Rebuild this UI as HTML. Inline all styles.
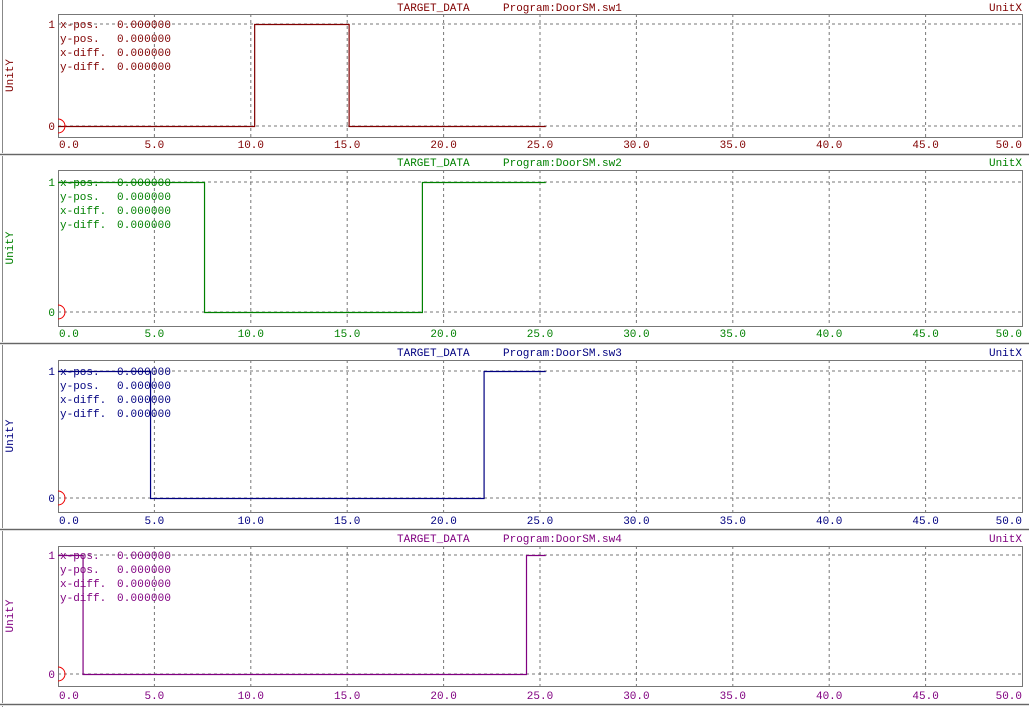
<!DOCTYPE html>
<html><head><meta charset="utf-8"><style>
html,body{margin:0;padding:0;background:#fff;width:1029px;height:707px;overflow:hidden}
svg{display:block}
text{font-family:"Liberation Mono",monospace;font-size:11px}
</style></head><body>
<svg id="s" width="1029" height="707" xmlns="http://www.w3.org/2000/svg"></svg>
<script>
var P=[
 {c:'#800000',n:'sw1',t:11,b0:14,b1:137,y1:24,y0:126,l:148,sep:154,sig:[[0,0],[10.2,1],[15.1,0]]},
 {c:'#008000',n:'sw2',t:166,b0:170,b1:326,y1:182,y0:312,l:337,sep:343,sig:[[0,1],[7.6,0],[18.9,1]]},
 {c:'#000080',n:'sw3',t:356,b0:360,b1:512,y1:371,y0:498,l:524,sep:529,sig:[[0,1],[4.8,0],[22.1,1]]},
 {c:'#800080',n:'sw4',t:542,b0:546,b1:686,y1:555,y0:674,l:699,sep:704,sig:[[0,1],[1.3,0],[24.3,1]]}
];
var X0=58,X1=1022,sc=(X1-X0)/50,h='';
h+='<line x1="2.5" y1="0" x2="2.5" y2="707" stroke="#888"/>';
P.forEach(function(p){
 h+='<text x="397" y="'+p.t+'" fill="'+p.c+'">TARGET_DATA</text>';
 h+='<text x="503" y="'+p.t+'" fill="'+p.c+'">Program:DoorSM.'+p.n+'</text>';
 h+='<text x="1022" y="'+p.t+'" fill="'+p.c+'" text-anchor="end">UnitX</text>';
 var my=(p.b0+p.b1)/2;
 h+='<text x="13" y="'+my+'" fill="'+p.c+'" text-anchor="middle" transform="rotate(-90 13 '+my+')">UnitY</text>';
 for(var i=1;i<10;i++){var x=X0+i*5*sc;h+='<line x1="'+x+'" y1="'+p.b0+'" x2="'+x+'" y2="'+p.b1+'" stroke="#777" stroke-dasharray="3,3"/>';}
 h+='<line x1="'+X0+'" y1="'+p.y1+'" x2="'+X1+'" y2="'+p.y1+'" stroke="#777" stroke-dasharray="3,3"/>';
 h+='<line x1="'+X0+'" y1="'+p.y0+'" x2="'+X1+'" y2="'+p.y0+'" stroke="#777" stroke-dasharray="3,3"/>';
 h+='<rect x="'+(X0+.5)+'" y="'+(p.b0+.5)+'" width="'+(X1-X0)+'" height="'+(p.b1-p.b0)+'" fill="none" stroke="#777"/>';
 h+='<text x="55" y="'+(p.y1+4)+'" fill="'+p.c+'" text-anchor="end">1</text>';
 h+='<text x="55" y="'+(p.y0+4)+'" fill="'+p.c+'" text-anchor="end">0</text>';
 for(var i=0;i<=10;i++){var x=X0+i*5*sc;h+='<text x="'+(i==0?X0+1:x)+'" y="'+p.l+'" fill="'+p.c+'" text-anchor="'+(i==0?'start':(i==10?'end':'middle'))+'">'+(i*5).toFixed(1)+'</text>';}
 var lb=['x-pos.','y-pos.','x-diff.','y-diff.'];
 lb.forEach(function(s,k){var y=p.y1+4+k*14;h+='<text x="60" y="'+y+'" fill="'+p.c+'">'+s+'</text><text x="117" y="'+y+'" fill="'+p.c+'" textLength="54">0.000000</text>';});
 var d='',s=p.sig,Y=function(v){return (v?p.y1:p.y0)+.5;};
 d='M'+X0+' '+Y(s[0][1]);
 for(var k=1;k<s.length;k++){var x=X0+s[k][0]*sc;d+=' L'+x+' '+Y(s[k-1][1])+' L'+x+' '+Y(s[k][1]);}
 d+=' L'+(X0+25.3*sc)+' '+Y(s[s.length-1][1]);
 h+='<path d="'+d+'" fill="none" stroke="'+p.c+'" stroke-width="1.2"/>';
 h+='<path d="M'+X0+' '+(p.y0-7)+' A7 7 0 0 1 '+X0+' '+(p.y0+7)+'" fill="none" stroke="#e00"/>';
 h+='<rect x="0" y="'+(p.sep-1)+'" width="1029" height="3" fill="#ddd"/><line x1="0" y1="'+(p.sep+.5)+'" x2="1029" y2="'+(p.sep+.5)+'" stroke="#666"/>';
});
document.getElementById('s').innerHTML=h;
</script>
</body></html>
